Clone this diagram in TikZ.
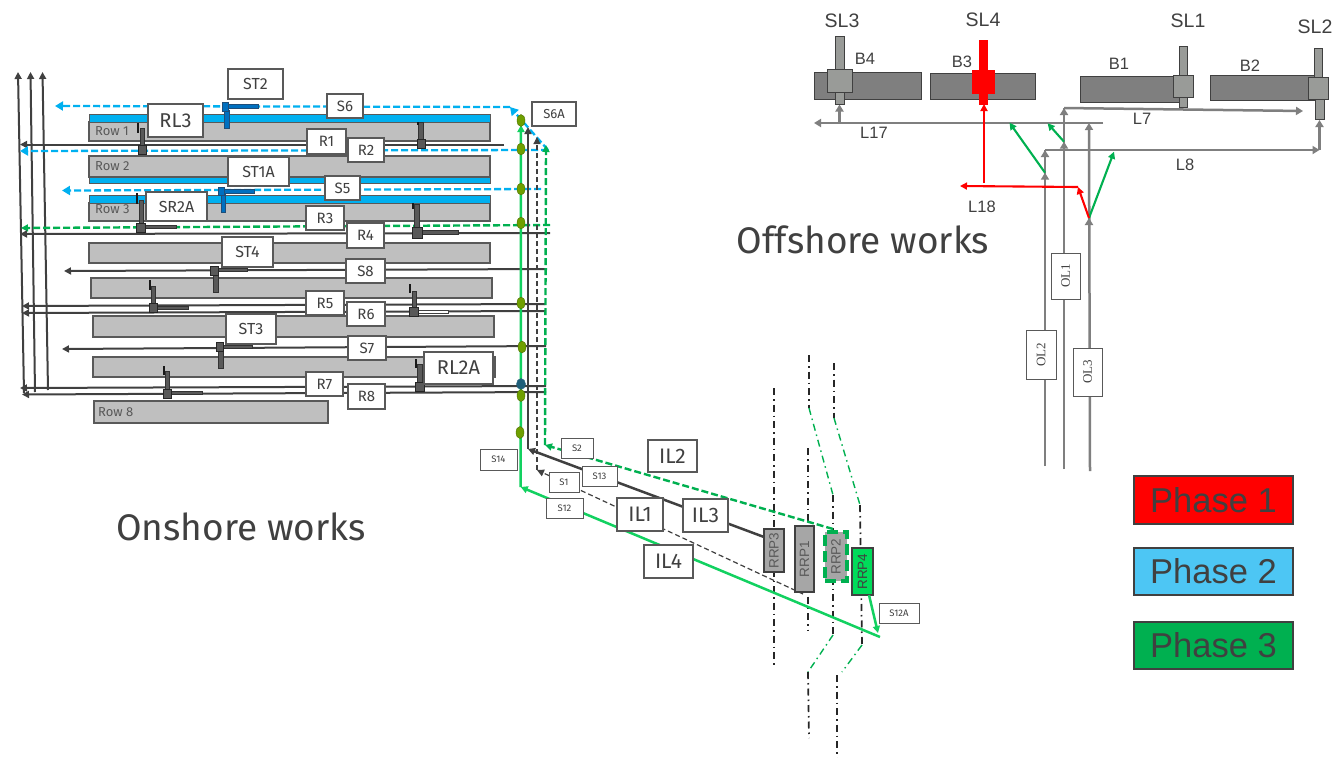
\documentclass[tikz,border=0pt]{standalone}
\usepackage{fontspec}
\setmainfont{Fira Sans}
\newfontfamily\arl{Liberation Sans}
\newfontfamily\srf{Liberation Serif}
\usetikzlibrary{arrows.meta,shapes.geometric}
\definecolor{ink}{HTML}{404040}
\definecolor{rowgray}{HTML}{BFBFBF}
\definecolor{edgegray}{HTML}{595959}
\definecolor{pblue}{HTML}{00B0F0}
\definecolor{pgreen}{HTML}{00B050}
\definecolor{lgreen}{HTML}{12D160}
\definecolor{brightgreen}{HTML}{00DC5A}
\definecolor{offgray}{HTML}{7F7F7F}
\definecolor{slgray}{HTML}{999B98}
\definecolor{vblue}{HTML}{0070C0}
\definecolor{vblueedge}{HTML}{1F4E79}
\definecolor{olive}{HTML}{6F9F00}
\definecolor{teal2}{HTML}{1F5F7A}
\newcommand\bx[5]{\bxp{#1}{#2}#3;#4;{#5}}
\def\bxp#1#2#3,#4;#5,#6;#7{\pgfmathsetmacro\bxw{#5-#3}\pgfmathsetmacro\bxh{#6-#4}\node[#2,minimum width=\bxw pt,minimum height=\bxh pt,anchor=center] (#1) at ({(#3+#5)/2},{(#4+#6)/2}) {#7};}
\newcommand\rc[5]{\draw[#1] (#2,#3) rectangle (#4,#5);}
\tikzset{
  base/.style={inner sep=0pt,outer sep=0pt,draw=edgegray,line width=1.2pt},
  rowbox/.style={base,fill=rowgray,line width=1.1pt},
  bluebar/.style={base,fill=pblue,draw=edgegray,line width=.8pt},
  lab/.style={base,fill=white,text=ink,font=\fontsize{16}{16}\selectfont},
  labbig/.style={lab,font=\fontsize{20}{20}\selectfont},
  labmid/.style={lab,font=\fontsize{15}{15}\selectfont},
  labil/.style={lab,font=\fontsize{21}{21}\selectfont},
  labsm/.style={lab,font=\fontsize{9.5}{9.5}\selectfont,line width=1pt},
  rowlab/.style={text=edgegray,inner sep=0pt,anchor=west,font=\fontsize{13}{13}\selectfont},
  rrp/.style={base,fill=black!35,text=edgegray,font=\arl\fontsize{13.5}{13.5}\selectfont,draw=ink},
  ol/.style={base,fill=white,text=ink,line width=.8pt,font=\srf\fontsize{13}{13}\selectfont},
  tip/.style={-{Triangle[length=7pt,width=7pt]}},
  feed/.style={tip,draw=ink,line width=2pt},
  thin feed/.style={tip,draw=ink,line width=1.2pt,dash pattern=on 5pt off 3pt},
  bluedash/.style={draw=pblue,line width=2.3pt,dash pattern=on 7pt off 3pt,-{Triangle[length=8pt,width=9pt]}},
  greendash/.style={tip,draw=pgreen,line width=2.4pt,dash pattern=on 7pt off 3pt},
  lsolid/.style={tip,draw=lgreen,line width=2.5pt},
  dd/.style={draw=black!85,line width=1.7pt,dash pattern=on 7pt off 4pt on 1.5pt off 4pt},
  ddg/.style={draw=pgreen,line width=1.4pt,dash pattern=on 7pt off 4pt on 1.5pt off 4pt},
  stem/.style={draw=black!80,fill=edgegray,line width=.8pt},
  head/.style={draw=black!85,fill=edgegray,line width=.9pt},
  tick/.style={draw=black!90,line width=1.5pt},
  bstem/.style={draw=vblueedge,fill=vblue,line width=.8pt},
  offl/.style={draw=offgray,line width=2.5pt,-{Triangle[length=7pt,width=8pt]}},
  offp/.style={draw=offgray,line width=2.5pt},
  gar/.style={tip,draw=pgreen,line width=2.1pt},
  rar/.style={tip,draw=red,line width=2.1pt},
  berth/.style={base,fill=offgray,draw=ink,line width=1pt},
  slbox/.style={base,fill=slgray,draw=ink,line width=1pt},
  redbox/.style={base,fill=red,draw=red},
  sltxt/.style={text=ink,inner sep=0pt,font=\arl\fontsize{19.5}{19.5}\selectfont},
  btxt/.style={text=ink,inner sep=0pt,font=\arl\fontsize{16.5}{16.5}\selectfont},
  title/.style={text=ink,inner sep=0pt,font=\fontsize{37}{37}\selectfont},
  phase/.style={inner sep=0pt,outer sep=0pt,draw=ink,line width=2.6pt,text=ink,font=\arl\fontsize{34.5}{34.5}\selectfont},
  junc/.style={ellipse,minimum width=8pt,minimum height=12pt,inner sep=0pt,fill=olive,draw=olive!70!black,line width=.4pt},
}
\begin{document}
\begin{tikzpicture}[x=1pt,y=-1pt]
\useasboundingbox (0,0) rectangle (1334,758);
\fill[white] (0,0) rectangle (1334,758);

% ---- onshore rows
\bx{row1}{rowbox}{89,122}{490,141}{}
\bx{bar1}{bluebar}{89,114}{490,122}{}
\bx{row2}{rowbox}{89,156}{490,177}{}
\bx{bar2}{bluebar}{89,177}{490,183}{}
\bx{row3}{rowbox}{89,203}{490,221}{}
\bx{bar3}{bluebar}{89,195}{490,203}{}
\bx{row4}{rowbox}{89,243}{490,263}{}
\bx{row5}{rowbox}{91,278}{492,298}{}
\bx{row6}{rowbox}{93,316}{494,337}{}
\bx{row7}{rowbox}{93,357}{495,377}{}
\bx{row8}{rowbox}{94,401}{328,423}{}
\node[rowlab] (t1) at (95,131) {Row 1};
\node[rowlab] (t2) at (95,166) {Row 2};
\node[rowlab] (t3) at (95,209.5) {Row 3};
\node[rowlab] (t8) at (98,412) {Row 8};

% ---- coordinates
\coordinate (v1b) at (24,393); \coordinate (v1t) at (18,72);
\coordinate (v2b) at (35,392); \coordinate (v2t) at (30.5,72);
\coordinate (v3b) at (48,390); \coordinate (v3t) at (42.5,72);
\coordinate (r1e) at (504,144.5); \coordinate (r1w) at (20,144.5);
\coordinate (r2e) at (548,150); \coordinate (r2w) at (20,151);
\coordinate (s6c) at (510,107); \coordinate (s6w) at (55,106);
\coordinate (s6r) at (510,107);
\coordinate (s5e) at (541,189); \coordinate (s5w) at (62,190.5);
\coordinate (g1e) at (550,225); \coordinate (g1w) at (21,228);
\coordinate (r3e) at (550,233); \coordinate (r3w) at (20,234);
\coordinate (s8e) at (547,269); \coordinate (s8w) at (64,271);
\coordinate (r5e) at (545,304); \coordinate (r5w) at (22,306);
\coordinate (r6e) at (545,311); \coordinate (r6w) at (22,313);
\coordinate (s7e) at (546,346); \coordinate (s7w) at (62,349);
\coordinate (r7e) at (546,386); \coordinate (r7w) at (20,388);
\coordinate (r8e) at (546,392); \coordinate (r8w) at (22,394.5);
\coordinate (ls) at (880,637); \coordinate (lc) at (520.7,487); \coordinate (lt) at (521,125);
\coordinate (ds) at (764,537); \coordinate (dc) at (528,449); \coordinate (dt) at (528,127);
\coordinate (ts) at (803,594); \coordinate (tc) at (537,470); \coordinate (tt) at (537,137);
\coordinate (gs) at (833,529); \coordinate (gc) at (545,445); \coordinate (gt) at (546,145);

% ---- left risers
\draw[feed] (v1b) -- (v1t);
\draw[feed] (v2b) -- (v2t);
\draw[feed] (v3b) -- (v3t);

% ---- horizontal runs
\draw[feed] (r1e) -- (r1w);
\draw[bluedash] (r2e) -- (r2w);
\draw[bluedash] (r2e) -- (s6c);
\draw[bluedash] (s6r) -- (s6w);
\draw[bluedash] (s5e) -- (s5w);
\draw[greendash] (g1e) -- (g1w);
\draw[feed] (r3e) -- (r3w);
\draw[feed] (s8e) -- (s8w);
\draw[feed] (r5e) -- (r5w);
\draw[feed] (r6e) -- (r6w);
\draw[feed] (s7e) -- (s7w);
\draw[feed] (r7e) -- (r7w);
\draw[feed] (r8e) -- (r8w);

% ---- dash-dot corridors
\coordinate (a1) at (774,388); \coordinate (a2) at (774,668);
\coordinate (d1) at (808,448); \coordinate (d2) at (808,630);
\coordinate (b1) at (809,355); \coordinate (b2) at (809,408); \coordinate (b3) at (833,495); \coordinate (b4) at (833,635); \coordinate (b5) at (808,672); \coordinate (b6) at (809,738);
\coordinate (c1) at (834,363); \coordinate (c2) at (834,418); \coordinate (c3) at (860,505); \coordinate (c4) at (862,645); \coordinate (c5) at (842,672); \coordinate (c6) at (837,675); \coordinate (c7) at (837,758);
\draw[dd] (a1) -- (a2);
\draw[dd] (d1) -- (d2);
\draw[dd] (b1) -- (b2); \draw[ddg] (b2) -- (b3); \draw[dd] (b3) -- (b4); \draw[ddg] (b4) -- (b5); \draw[dd] (b5) -- (b6);
\draw[dd] (c1) -- (c2); \draw[ddg] (c2) -- (c3); \draw[dd] (c3) -- (c4); \draw[ddg] (c4) -- (c5); \draw[dd] (c6) -- (c7);

% ---- intake lines
\draw[lsolid] (ls) -- (lc);
\draw[lsolid] (lc) -- (lt);
\draw[feed,line width=2.5pt] (ds) -- (dc);
\draw[feed,line width=2.5pt] (dc) -- (dt);
\draw[thin feed] (ts) -- (tc);
\draw[thin feed] (tc) -- (tt);
\draw[greendash] (gs) -- (gc);
\draw[greendash] (gc) -- (gt);

% ---- valves
% row 1 left
\rc{stem}{140}{128}{144}{146} \draw[tick] (138,123) -- (138,133); \rc{head}{138}{145}{146}{154}
% row 1 right
\rc{stem}{418}{122}{423}{140} \draw[tick] (418,122) -- (418,125); \rc{head}{417}{139}{425}{148}
% ST2
\rc{bstem}{224}{110}{229}{128} \rc{bstem}{227}{104}{258}{108} \rc{bstem}{222}{102}{228}{111}
% ST1A
\rc{bstem}{221}{194}{225}{212} \rc{bstem}{223}{189}{254}{193} \rc{bstem}{218}{187}{224}{195}
% SR2A
\rc{stem}{139}{200}{143}{224} \draw[tick] (137,193) -- (137,204); \rc{stem}{144}{225}{176}{228} \rc{head}{136}{223}{145}{232}
% row 3 right
\rc{stem}{414}{204}{419}{228} \draw[tick] (413,203) -- (413,209); \rc{stem}{421}{230}{458}{234} \rc{head}{412}{227}{422}{238}
% ST4
\rc{stem}{213}{274}{218}{292} \rc{stem}{217}{268}{247}{271} \rc{head}{210}{266}{218}{275}
% row 5 left
\rc{stem}{151}{286}{155}{304} \draw[tick] (150,280) -- (150,290); \rc{stem}{156}{306}{188}{309} \rc{head}{149}{303}{157}{312}
% row 5 right
\rc{stem}{412}{291}{416}{308} \draw[tick] (410,284) -- (410,293); \draw[draw=ink,fill=white,line width=.7pt] (417,310) rectangle (448,313); \rc{head}{409}{307}{418}{316}
% ST3
\rc{stem}{218}{350}{223}{368} \rc{stem}{222}{345}{252}{348} \rc{head}{216}{342}{223}{351}
% row 7 left
\rc{stem}{165}{371}{169}{390} \draw[tick] (164,366) -- (164,375); \rc{stem}{170}{391}{202}{394} \rc{head}{163}{389}{171}{398}
% row 7 right
\rc{stem}{417}{364}{422}{383} \draw[tick] (416,359) -- (416,368); \rc{head}{415}{382}{424}{391}

% ---- junctions
\node[junc] (j1) at (521,120.5) {};
\node[junc] (j2) at (521,149) {};
\node[junc] (j3) at (521,189) {};
\node[junc] (j4) at (521,223) {};
\node[junc] (j5) at (521,303) {};
\node[junc] (j6) at (522,347) {};
\node[junc,fill=teal2,draw=teal2,minimum width=9pt,minimum height=11pt] (j7) at (521,384) {};
\node[junc] (j8) at (521,395.5) {};
\node[junc] (j9) at (520,432.5) {};

% ---- labels
\bx{ST2}{lab}{228,69}{283,99}{ST2}
\bx{RL3}{labbig}{148,104}{203,137}{RL3}
\bx{ST1A}{lab}{228,157}{289,186}{ST1A}
\bx{SR2A}{lab}{146,192}{207,221}{SR2A}
\bx{ST4}{lab}{222,237}{273,267}{ST4}
\bx{ST3}{lab}{226,314}{276,344}{ST3}
\bx{RL2A}{labbig}{424,352}{493,384}{RL2A}
\bx{S6}{labmid}{327,94}{363,118}{S6}
\bx{S6A}{lab,font=\fontsize{13}{13}\selectfont}{532,102}{576,126}{S6A}
\bx{R1}{labmid}{307,129}{346,154}{R1}
\bx{R2}{labmid}{348,138}{384,162}{R2}
\bx{S5}{labmid}{325,176}{360,200}{S5}
\bx{R3}{labmid}{306,206}{344,230}{R3}
\bx{R4}{labmid}{347,223}{384,248}{R4}
\bx{S8}{labmid}{346,259}{385,283}{S8}
\bx{R5}{labmid}{306,291}{344,315}{R5}
\bx{R6}{labmid}{347,302}{385,326}{R6}
\bx{S7}{labmid}{348,336}{386,360}{S7}
\bx{R7}{labmid}{306,372}{343,396}{R7}
\bx{R8}{labmid}{348,384}{385,409}{R8}
\bx{S2}{labsm}{561,438}{593,458}{S2}
\bx{S13}{labsm}{582,466}{617,486}{S13}
\bx{S1}{labsm}{549,472}{579,492}{S1}
\bx{S12}{labsm}{546,498}{583,518}{S12}
\bx{S14}{labsm}{480,449}{517,470}{S14}
\bx{S12A}{labsm}{879,603}{919,623}{S12A}
\bx{IL2}{labil}{648,440}{697,472}{IL2}
\bx{IL3}{labil}{683,499}{728,532}{IL3}
\bx{IL1}{labil}{617,498}{663,531}{IL1}
\bx{IL4}{labil}{644,545}{693,578}{IL4}

% ---- RRP boxes
\bx{RRP3}{rrp}{764,529}{784,572}{\rotatebox{90}{RRP3}}
\bx{RRP1}{rrp}{795,526}{814,592}{\rotatebox{90}{RRP1}}
\bx{RRP2}{rrp,draw=pgreen,line width=3.5pt,dash pattern=on 11pt off 5pt}{825,532}{847,581}{\rotatebox{90}{RRP2}}
\bx{RRP4}{rrp,fill=brightgreen,text=ink}{852,548}{873,595}{\rotatebox{90}{RRP4}}
\coordinate (rrp4end) at (878,633);
\draw[lsolid] ([xshift=6.5pt]RRP4.south) -- (rrp4end);

% ---- titles
\node[title] (onshore) at (241,527) {Onshore works};
\node[title] (offshore) at (863,240) {Offshore works};

% ---- offshore lines
\coordinate (l17e) at (1103,123); \coordinate (l17w) at (814,123);
\coordinate (b4j) at (839.5,123); \coordinate (b4t) at (839.5,104.5);
\coordinate (ol1b) at (1064,469); \coordinate (ol1c) at (1064,108); \coordinate (l7e) at (1303,111);
\coordinate (ol2b) at (1045,466); \coordinate (ol2c) at (1045,150); \coordinate (l8e) at (1319.5,150); \coordinate (sl2b) at (1319.5,120);
\coordinate (ol3b) at (1090,471); \coordinate (ol3t) at (1089,123);
\coordinate (x1) at (1045,172.7); \coordinate (x2) at (1064,141.7); \coordinate (x3) at (1089,218);
\coordinate (g1t) at (1009.5,122.7); \coordinate (g2t) at (1047.6,123.3); \coordinate (g3t) at (1114,151.7);
\coordinate (rc) at (1078,187); \coordinate (l18w) at (960,186); \coordinate (rv) at (984,183); \coordinate (rt) at (984,104);
\coordinate (x1b) at (1045,178); \coordinate (x2b) at (1064,147); \coordinate (x3b) at (1089,223);

\draw[offl] (l17e) -- (l17w);
\draw[offl] (b4j) -- (b4t);
\draw[offp] (ol1b) -- (ol1c);
\draw[offl] (x2b) -- (ol1c);
\draw[offp] (ol2b) -- (ol2c);
\draw[offl] (l8e) -- (sl2b);
\draw[offl] (x1b) -- (ol2c);
\draw[offl] (ol3b) -- (ol3t);
\draw[offl] (x1b) -- (x1);
\draw[offl] (x2b) -- (x2);
\draw[offl] (x3b) -- (x3);

% ---- berths
\bx{B4box}{berth}{814,72}{921,99}{}
\bx{B3box}{berth}{930,73}{1035,99}{}
\bx{B1box}{berth}{1080,76}{1183,102}{}
\bx{B2box}{berth}{1210,75}{1314,100}{}
\bx{SL3s}{slbox}{835,36}{844,104}{}
\bx{SL3h}{slbox}{827,69}{852,92}{}
\bx{SL4s}{redbox}{979.5,41}{987,104}{}
\bx{SL4h}{redbox}{973,71}{994,93}{}
\bx{SL1s}{slbox}{1179,46}{1187,107}{}
\bx{SL1h}{slbox}{1173,75}{1193,97}{}
\bx{SL2u}{slbox}{1314,48}{1322,79}{}
\bx{SL2l}{slbox}{1315,98}{1324,119}{}
\bx{SL2h}{slbox}{1308.5,77}{1328,99}{}

\draw[offl] (ol1c) -- (l7e);
\draw[offl] (ol2c) -- (l8e);
\draw[gar] (x1) -- (g1t);
\draw[gar] (x2) -- (g2t);
\draw[gar] (x3) -- (g3t);
\draw[rar] (x3) -- (rc);
\draw[rar] (rc) -- (l18w);
\draw[rar] (rv) -- (rt);

\node[sltxt] (SL3) at (842,21) {SL3};
\node[sltxt] (SL4) at (983,19.5) {SL4};
\node[sltxt] (SL1) at (1188,21) {SL1};
\node[sltxt] (SL2) at (1315,27) {SL2};
\node[btxt] (B4) at (865,59) {B4};
\node[btxt] (B3) at (962,62) {B3};
\node[btxt] (B1) at (1119,64) {B1};
\node[btxt] (B2) at (1250,66) {B2};
\node[btxt] (L17) at (874,133) {L17};
\node[btxt] (L7) at (1142,119) {L7};
\node[btxt] (L8) at (1185,165) {L8};
\node[btxt] (L18) at (982,207) {L18};

% ---- OL labels
\bx{OL1}{ol}{1051,253}{1080,299}{\rotatebox{90}{OL1}}
\bx{OL2}{ol}{1026,330}{1056,379}{\rotatebox{90}{OL2}}
\bx{OL3}{ol}{1073,348}{1102,396}{\rotatebox{90}{OL3}}

% ---- legend
\bx{P1}{phase,fill=red}{1134,476}{1293,524}{Phase 1}
\bx{P2}{phase,fill=cyan!70!white}{1134,548}{1293,595}{Phase 2}
\bx{P3}{phase,fill=pgreen}{1134,622}{1293,669}{Phase 3}
\end{tikzpicture}
\end{document}
